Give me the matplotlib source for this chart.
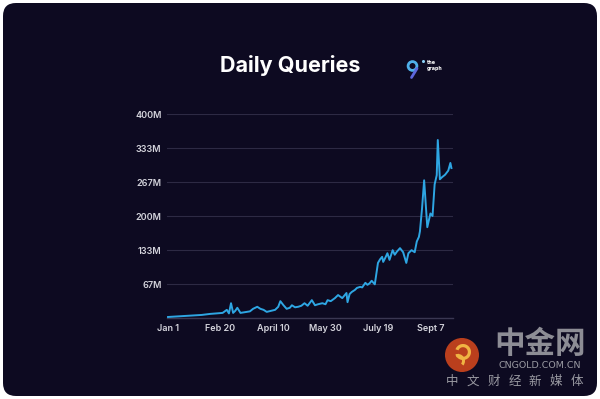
import numpy as np
import matplotlib.pyplot as plt
from matplotlib.patches import FancyBboxPatch, Circle, Wedge

# days since Jan 1 and daily queries (millions)
days = [0, 8, 16, 24, 32, 40, 46, 52, 56, 58,
        60, 62, 64, 66, 69, 72, 75, 78, 81, 85,
        88, 91, 94, 98, 102, 105, 107, 110, 113, 116,
        118, 121, 124, 127, 130, 133, 137, 140, 143, 147,
        150, 152, 155, 159, 162, 166, 168, 170, 171, 173,
        175, 178, 180, 183, 185, 188, 190, 192, 194, 197,
        200, 202, 204, 205, 207, 209, 211, 214, 216, 218,
        221, 224, 227, 229, 232, 235, 237, 239, 240, 242,
        244, 247, 250, 252, 254, 256, 257, 259, 261, 264,
        267, 269, 270]
queries = [2, 3, 4, 5, 6, 8, 9, 10, 16, 9,
           29, 10, 14, 20, 10, 11, 12, 13, 18, 22,
           18, 16, 12, 14, 16, 22, 33, 25, 18, 20,
           25, 21, 22, 24, 29, 24, 35, 25, 27, 29,
           27, 35, 33, 39, 45, 39, 44, 49, 31, 47,
           51, 55, 59, 61, 60, 69, 65, 68, 73, 66,
           108, 115, 120, 110, 118, 127, 114, 133, 124, 130,
           137, 129, 108, 127, 133, 129, 150, 159, 170, 215,
           270, 178, 205, 200, 262, 280, 349, 272, 276, 281,
           289, 304, 294]

x_ticks = [0, 50, 100, 150, 200, 250]
x_labels = ["Jan 1", "Feb 20", "April 10", "May 30", "July 19", "Sept 7"]
y_ticks = [0, 400 / 6, 800 / 6, 200, 1600 / 6, 2000 / 6, 400]
y_labels = ["", "67M", "133M", "200M", "267M", "333M", "400M"]

navy = "#0d0a21"
W, H = 600, 399
cjk = ["Noto Sans CJK SC", "DejaVu Sans"]

fig = plt.figure(figsize=(6, 3.99), dpi=100)
fig.patch.set_facecolor("white")

# background card, pixel coordinates
bg = fig.add_axes([0, 0, 1, 1])
bg.set_xlim(0, W)
bg.set_ylim(H, 0)
bg.axis("off")
bg.add_patch(FancyBboxPatch((3, 3), 594, 393, boxstyle="round,pad=0,rounding_size=13",
                            facecolor=navy, edgecolor="none"))

bg.text(290, 66, "Daily Queries", color="white", fontsize=15.5, fontweight="bold",
        family="Inter", ha="center", va="center")

# the graph logo
bg.add_patch(Circle((412.5, 66), 4.4, facecolor="none", edgecolor="#4fb0ea", lw=2))
bg.plot([417, 411.5], [68.5, 77.5], color="#5d67dc", lw=2, solid_capstyle="round")
bg.plot([422.5], [60.5], marker="o", ms=1.2, color="#8ad0f5")
bg.text(427, 62.5, "the", color="white", fontsize=3.4, fontweight="bold", va="center")
bg.text(427, 68.5, "graph", color="white", fontsize=3.4, fontweight="bold", va="center")

# watermark
bg.add_patch(Circle((462, 355), 17, facecolor="#c5431d", edgecolor="none", alpha=0.95))
bg.add_patch(Wedge((463, 352), 8, 200, 520, width=3.2, facecolor="#f0b443", edgecolor="none"))
bg.add_patch(Wedge((458, 361), 7, 250, 40, width=3, facecolor="#f0b443", edgecolor="none"))
bg.text(540, 344, "中金网", color="#8d8d95", fontsize=22, fontweight="bold",
        family=cjk, ha="center", va="center")
bg.text(540, 365, "CNGOLD.COM.CN", color="#9a9aa2", fontsize=6.8,
        family="DejaVu Sans", ha="center", va="center")
for i, ch in enumerate("中文财经新媒体"):
    bg.text(452 + i * 20.8, 381, ch, color="#9a9aa2", fontsize=9,
            family=cjk, ha="center", va="center")

# chart
ax = fig.add_axes([167 / W, 1 - 318 / H, 286 / W, 204 / H])
ax.set_facecolor("none")
ax.plot(days, queries, color="#2ea6e3", lw=1.4, solid_joinstyle="round", zorder=3)
ax.axhline(0, color="#3a3752", lw=1, clip_on=False, zorder=2)
ax.set_xlim(-1, 271.5)
ax.set_ylim(0, 400)
ax.set_yticks(y_ticks)
ax.set_yticklabels(y_labels)
ax.set_xticks(x_ticks)
ax.set_xticklabels(x_labels)
ax.grid(axis="y", color="#2d2a44", lw=0.8)
ax.grid(axis="x", visible=False)
for s in ax.spines.values():
    s.set_visible(False)
ax.tick_params(length=0, colors="#d4d4dc", labelsize=6.5, pad=4)
for lbl in ax.get_xticklabels() + ax.get_yticklabels():
    lbl.set_family("Inter")
    lbl.set_fontweight("semibold")

fig.savefig("out.png", dpi=100, facecolor="white")
